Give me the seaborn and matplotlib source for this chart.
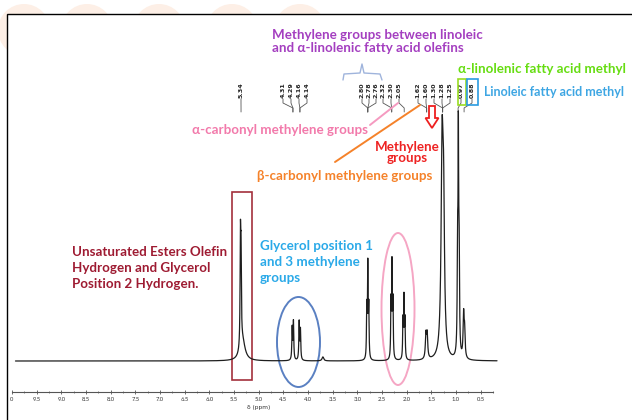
import numpy as np
import pandas as pd
import matplotlib
matplotlib.use("Agg")
import matplotlib.pyplot as plt
from matplotlib.patches import Rectangle, Ellipse, Circle, FancyArrow
import seaborn as sns

sns.set_theme(style="white")
plt.rcParams['font.family'] = ['Lato', 'DejaVu Sans']

# ---------------- data ----------------
peak_ppm    = [5.342, 5.330, 5.30, 4.305, 4.28, 4.165, 4.14, 3.69,
               2.81, 2.79, 2.77, 2.325, 2.305, 2.285, 2.085, 2.065, 2.045,
               1.625, 1.60, 1.30, 1.27, 0.99, 0.975, 0.96, 0.87, 0.85]
peak_height = [102, 80, 20, 32, 38, 38, 30, 4,
               50, 92, 50, 55, 92, 55, 38, 60, 38,
               24, 24, 205, 125, 100, 195, 100, 42, 26]
peak_hwhm   = [0.008, 0.008, 0.06, 0.008, 0.008, 0.008, 0.008, 0.02,
               0.007, 0.007, 0.007, 0.007, 0.007, 0.007, 0.007, 0.007, 0.007,
               0.013, 0.013, 0.024, 0.02, 0.009, 0.007, 0.009, 0.012, 0.012]

tick_values = [10.0, 9.5, 9.0, 8.5, 8.0, 7.5, 7.0, 6.5, 6.0, 5.5, 5.0, 4.5,
               4.0, 3.5, 3.0, 2.5, 2.0, 1.5, 1.0, 0.5]
tick_labels = ["0", "9.5", "9.0", "8.5", "8.0", "7.5", "7.0", "6.5", "6.0", "5.5",
               "5.0", "4.5", "4.0", "3.5", "3.0", "2.5", "2.0", "1.5", "1.0", "0.5"]

# peak labels (text, label x pixel, target peak ppm)
label_texts  = ["5.34",
                "4.31", "4.29", "4.16", "4.14",
                "2.80", "2.78", "2.76", "2.32", "2.30", "2.05",
                "1.62", "1.60", "1.30", "1.28", "1.25", "0.97", "0.88"]
label_px     = [241,
                283, 291, 299, 307,
                362, 369, 376, 383, 391, 399,
                418, 426, 434, 442, 450, 461, 472]
label_target = [5.33,
                4.29, 4.29, 4.15, 4.15,
                2.79, 2.79, 2.79, 2.31, 2.31, 2.06,
                1.61, 1.61, 1.29, 1.29, 1.29, 0.98, 0.86]

# ---------------- figure ----------------
W, H = 632, 420
fig = plt.figure(figsize=(W / 100, H / 100), dpi=100)
fig.patch.set_facecolor("white")

PX_PER_PPM = 49.9
X10 = 8.0  # pixel x of 10.0 ppm
def ppm2px(p):
    return X10 + (10 - p) * PX_PER_PPM
def px2ppm(x):
    return 10 - (x - X10) / PX_PER_PPM

BASE_Y = 361

# overlay (pixel coordinates) for decorations
ov = fig.add_axes([0, 0, 1, 1], zorder=0)
ov.set_xlim(0, W)
ov.set_ylim(H, 0)
ov.axis("off")

# faint watermark circles above frame
for cx in [24, 87, 159, 232, 300]:
    ov.add_patch(Circle((cx, 30), 26, facecolor="#fdefe6", edgecolor="none", zorder=0))
ov.add_patch(Rectangle((7, 14), W, H, facecolor="white", edgecolor="black", lw=1.0, zorder=1))

# spectrum axes
ax = fig.add_axes([0, 0, 1, 1], zorder=2)
ax.patch.set_alpha(0)

xs = np.linspace(9.85, 0.2, 9000)
ys = np.zeros_like(xs)
for p, h, w in zip(peak_ppm, peak_height, peak_hwhm):
    ys += h * w**2 / ((xs - p) ** 2 + w**2)
df = pd.DataFrame({"ppm": xs, "intensity": ys})
sns.lineplot(data=df, x="ppm", y="intensity", ax=ax, color="#1e1e1e", lw=0.9,
             estimator=None, sort=False)
ax.set_xlim(px2ppm(0), px2ppm(W))
ax.set_ylim(-(H - BASE_Y), BASE_Y)
ax.axis("off")

# x axis
AXY = 392
ax_x = fig.add_axes([12 / W, (H - AXY) / H, (493 - 12) / W, 0.001], zorder=3)
ax_x.set_xlim(px2ppm(12), px2ppm(493))
ax_x.patch.set_alpha(0)
for s in ["top", "left", "right"]:
    ax_x.spines[s].set_visible(False)
ax_x.spines["bottom"].set_color("#555555")
ax_x.spines["bottom"].set_linewidth(0.8)
ax_x.set_yticks([])
ax_x.set_xticks(tick_values)
ax_x.set_xticklabels(tick_labels, fontsize=4.2, color="#333333")
ax_x.set_xticks(np.arange(0.25, 10.0, 0.5), minor=True)
ax_x.tick_params(axis="x", which="major", direction="inout", length=3, width=0.6,
                 color="#555555", pad=2, bottom=True)
ax_x.tick_params(axis="x", which="minor", direction="inout", length=2, width=0.5,
                 color="#555555", bottom=True)
ov.text(259, 408, "δ (ppm)", fontsize=4.2, color="#333333", ha="center", va="center",
        family=["DejaVu Sans"], zorder=5)

# peak labels and leader lines
for t, lx, tg in zip(label_texts, label_px, label_target):
    ov.text(lx, 90, t, rotation=90, fontsize=4.6, ha="center", va="center",
            color="#222222", family=["DejaVu Sans"], fontweight="bold", zorder=5)
    tx = ppm2px(tg)
    ov.plot([lx, lx, tx, tx], [99, 103, 108, 112], color="#555555", lw=0.6, zorder=5)

# curly brace
ov.plot([343, 344, 360, 362, 364, 380, 382], [80, 74, 73, 64, 73, 74, 80],
        color="#9fb4dc", lw=1.0, zorder=5)

# boxes on methyl labels
ov.add_patch(Rectangle((457.5, 79), 8.5, 26, fill=False, edgecolor="#99dd22", lw=1.2, zorder=6))
ov.add_patch(Rectangle((467, 79), 11, 26, fill=False, edgecolor="#2a9be0", lw=1.2, zorder=6))

# annotation texts
FS = 9.6
def note(x, y, s, c, ha="left", fs=FS):
    ov.text(x, y, s, color=c, fontsize=fs, fontweight="bold", ha=ha, va="center", zorder=6)

note(272, 35, "Methylene groups between linoleic", "#a43fc0")
note(272, 48, "and α-linolenic fatty acid olefins", "#a43fc0")
note(458, 69, "α-linolenic fatty acid methyl", "#66dd11")
note(484, 92, "Linoleic fatty acid methyl", "#3ea6e3", fs=9.0)
note(192, 130, "α-carbonyl methylene groups", "#f27aab")
ov.plot([370, 398], [125, 103], color="#f59ac0", lw=1.4, zorder=6)
ov.plot([335, 420], [162, 105], color="#f5822a", lw=1.4, zorder=6)
note(257, 176, "β-carbonyl methylene groups", "#f5822a")
note(407, 147, "Methylene", "#ee2222", ha="center")
note(407, 158, "groups", "#ee2222", ha="center")
# hollow down arrow
ov.add_patch(FancyArrow(432, 106, 0, 22, width=6, head_width=13, head_length=10,
                        length_includes_head=True, facecolor="white",
                        edgecolor="#ee2020", lw=1.3, zorder=6))

note(72, 252, "Unsaturated Esters Olefin", "#9e1b32")
note(72, 268, "Hydrogen and Glycerol", "#9e1b32")
note(72, 284, "Position 2 Hydrogen.", "#9e1b32")
ov.add_patch(Rectangle((232, 192), 20, 188, fill=False, edgecolor="#a3303c", lw=1.2, zorder=6))

note(260, 246, "Glycerol position 1", "#2aa9e8")
note(260, 262, "and 3 methylene", "#2aa9e8")
note(260, 278, "groups", "#2aa9e8")
ov.add_patch(Ellipse((298.5, 342), 43, 90, fill=False, edgecolor="#5a80c2", lw=1.4, zorder=6))
ov.add_patch(Ellipse((398, 309), 33, 152, fill=False, edgecolor="#f5a6c4", lw=1.4, zorder=6))

fig.savefig("out.png", dpi=100, facecolor="white")
